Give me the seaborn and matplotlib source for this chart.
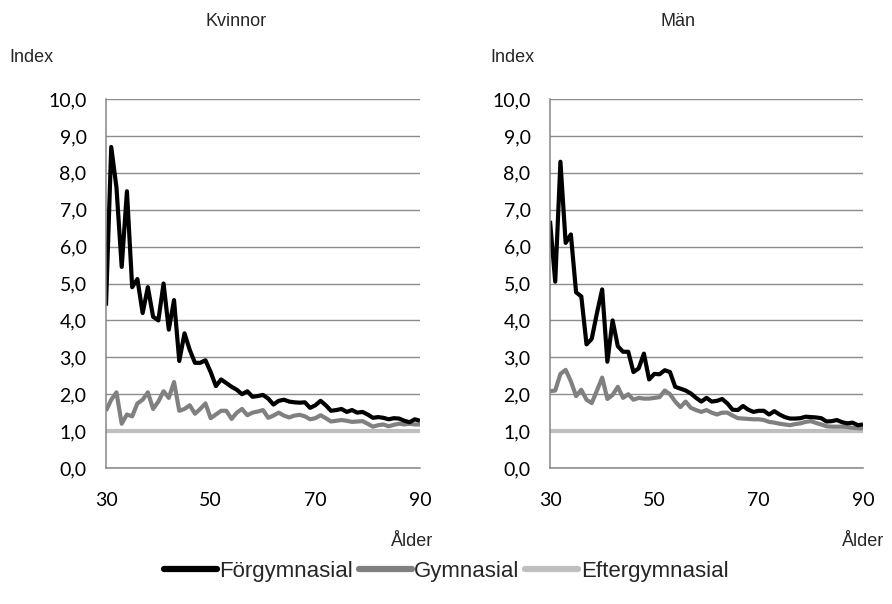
import matplotlib
matplotlib.use("Agg")
import matplotlib.pyplot as plt
from matplotlib.ticker import FuncFormatter, FixedLocator
from matplotlib.lines import Line2D
import numpy as np
import pandas as pd
import seaborn as sns

# Age 30..90, index relative to Eftergymnasial (= 1.0)
ages = list(range(30, 91))

kvinnor_forgymnasial = [
    4.40, 8.70, 7.60, 5.45, 7.50, 4.90, 5.12, 4.20, 4.90, 4.10,
    4.00, 5.00, 3.75, 4.55, 2.90, 3.65, 3.20, 2.85, 2.85, 2.92,
    2.60, 2.22, 2.40, 2.30, 2.20, 2.12, 2.00, 2.08, 1.93, 1.95,
    1.98, 1.88, 1.72, 1.82, 1.85, 1.80, 1.78, 1.77, 1.78, 1.63,
    1.70, 1.82, 1.70, 1.55, 1.57, 1.60, 1.52, 1.57, 1.50, 1.52,
    1.45, 1.36, 1.38, 1.36, 1.32, 1.35, 1.34, 1.28, 1.24, 1.32,
    1.28,
]
kvinnor_gymnasial = [
    1.55, 1.85, 2.05, 1.20, 1.45, 1.40, 1.75, 1.85, 2.05, 1.60,
    1.80, 2.08, 1.90, 2.33, 1.55, 1.60, 1.70, 1.47, 1.60, 1.75,
    1.35, 1.45, 1.55, 1.55, 1.33, 1.50, 1.60, 1.43, 1.50, 1.53,
    1.57, 1.36, 1.42, 1.50, 1.42, 1.37, 1.42, 1.44, 1.40, 1.32,
    1.35, 1.43, 1.35, 1.26, 1.28, 1.30, 1.28, 1.25, 1.26, 1.27,
    1.20, 1.12, 1.16, 1.18, 1.13, 1.17, 1.20, 1.18, 1.20, 1.18,
    1.18,
]
man_forgymnasial = [
    6.70, 5.05, 8.30, 6.10, 6.33, 4.76, 4.65, 3.35, 3.50, 4.20,
    4.84, 2.88, 4.00, 3.30, 3.15, 3.15, 2.60, 2.70, 3.10, 2.40,
    2.55, 2.54, 2.65, 2.60, 2.20, 2.15, 2.10, 2.02, 1.90, 1.80,
    1.90, 1.80, 1.82, 1.87, 1.75, 1.58, 1.57, 1.68, 1.58, 1.52,
    1.55, 1.55, 1.45, 1.54, 1.45, 1.38, 1.34, 1.34, 1.35, 1.39,
    1.38, 1.37, 1.35, 1.26, 1.27, 1.30, 1.24, 1.21, 1.23, 1.16,
    1.18,
]
man_gymnasial = [
    2.08, 2.10, 2.55, 2.66, 2.35, 1.95, 2.12, 1.85, 1.76, 2.10,
    2.45, 1.87, 1.98, 2.20, 1.90, 2.00, 1.85, 1.90, 1.88, 1.88,
    1.90, 1.92, 2.10, 2.00, 1.80, 1.65, 1.80, 1.63, 1.57, 1.52,
    1.57, 1.50, 1.45, 1.50, 1.50, 1.42, 1.35, 1.34, 1.33, 1.32,
    1.32, 1.30, 1.25, 1.23, 1.20, 1.18, 1.16, 1.19, 1.21, 1.25,
    1.27, 1.22, 1.18, 1.13, 1.12, 1.12, 1.12, 1.11, 1.09, 1.08,
    1.07,
]
eftergymnasial = [1.0] * len(ages)

series_names = ["Förgymnasial", "Gymnasial", "Eftergymnasial"]
series_colors = ["#000000", "#808080", "#BFBFBF"]
panel_titles = ["Kvinnor", "Män"]
x_ticks = [30, 50, 70, 90]
y_ticks = list(range(0, 11))


def long_frame(forg, gymn, efter):
    frames = []
    for name, vals in zip(series_names, [forg, gymn, efter]):
        frames.append(pd.DataFrame({"Ålder": ages, "Index": vals, "Utbildning": name}))
    return pd.concat(frames, ignore_index=True)


data = {
    "Kvinnor": long_frame(kvinnor_forgymnasial, kvinnor_gymnasial, eftergymnasial),
    "Män": long_frame(man_forgymnasial, man_gymnasial, eftergymnasial),
}

sns.set_theme(style="white")
plt.rcParams["font.family"] = ["Liberation Sans", "DejaVu Sans"]

W, H = 892, 604
fig = plt.figure(figsize=(W / 100, H / 100), dpi=100)

grid_col = "#8C8C8C"
axis_col = "#868686"
palette = dict(zip(series_names, series_colors))

# pixel boxes: (left, right) of each plot area, shared top/bottom
panel_px = [(106, 420), (550, 863)]
top_px, bottom_px = 99, 468
title_x_px = [236, 678]
index_x_px = [9, 490]
alder_shift = [29, 21]

for (l, r), title, tx, ix, sh in zip(panel_px, panel_titles, title_x_px, index_x_px, alder_shift):
    ax = fig.add_axes([l / W, 1 - bottom_px / H, (r - l) / W, (bottom_px - top_px) / H])
    df = data[title]
    # draw the reference series first so the others lie on top
    sns.lineplot(data=df, x="Ålder", y="Index", hue="Utbildning",
                 hue_order=series_names[::-1], palette=palette,
                 linewidth=3.0, legend=False, ax=ax, sort=True)
    for ln in ax.get_lines():
        ln.set_solid_joinstyle("round")
        ln.set_solid_capstyle("butt")

    ax.set_xlim(30, 90)
    ax.set_ylim(0, 10)
    ax.xaxis.set_major_locator(FixedLocator(x_ticks))
    ax.yaxis.set_major_locator(FixedLocator(y_ticks))
    ax.yaxis.set_major_formatter(FuncFormatter(lambda v, p: f"{v:.1f}".replace(".", ",")))
    ax.set_xlabel("")
    ax.set_ylabel("")
    ax.grid(axis="y", color=grid_col, linewidth=1.0)
    ax.grid(axis="x", visible=False)
    ax.set_axisbelow(True)
    for side in ["top", "right"]:
        ax.spines[side].set_visible(False)
    for side in ["left", "bottom"]:
        ax.spines[side].set_color(axis_col)
        ax.spines[side].set_linewidth(1.1)
    ax.tick_params(axis="both", direction="out", length=4, width=1.1, color=axis_col,
                   labelsize=14, labelcolor="#000000")
    ax.tick_params(axis="x", pad=13)
    ax.tick_params(axis="y", pad=10)
    for lab in ax.get_xticklabels() + ax.get_yticklabels():
        lab.set_fontfamily(["Lato", "DejaVu Sans"])

    fig.text(tx / W, 1 - 22 / H, title, ha="center", va="center", fontsize=13)
    fig.text(ix / W, 1 - 57 / H, "Index", ha="left", va="center", fontsize=13)
    fig.text((r - sh) / W, 1 - 541 / H, "Ålder", ha="left", va="center", fontsize=13)

handles = [Line2D([0], [0], color=c, linewidth=4.5, solid_capstyle="round") for c in series_colors]
fig.legend(handles, series_names, loc="center", bbox_to_anchor=(446 / W, 1 - 571 / H),
           ncol=3, frameon=False, fontsize=16, handlelength=2.4, handletextpad=0.1,
           columnspacing=0.25, borderaxespad=0)

fig.savefig("out.png", dpi=100, facecolor="white")
